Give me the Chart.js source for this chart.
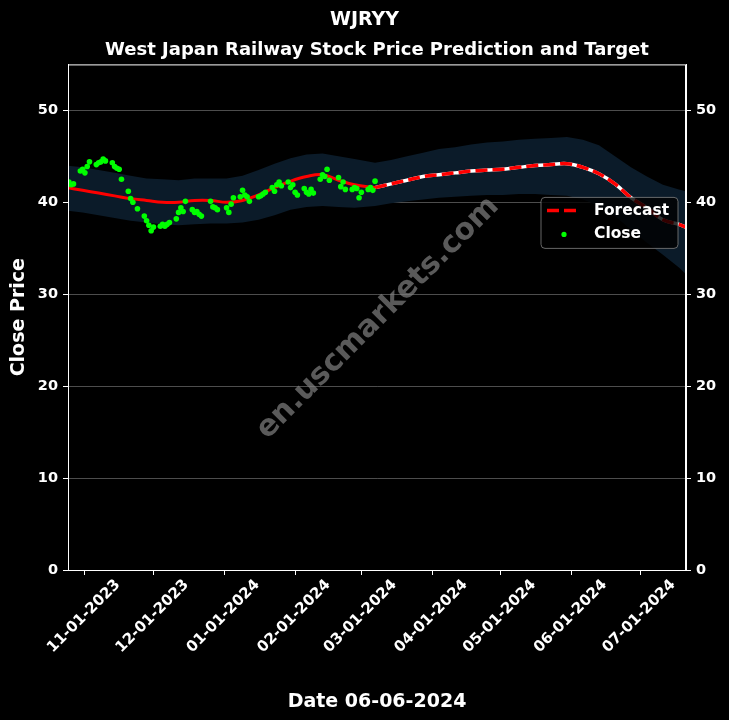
<!DOCTYPE html>
<html>
<head>
<meta charset="utf-8">
<title>WJRYY</title>
<script src="https://cdn.jsdelivr.net/npm/chart.js@4"></script>
<style>
  html, body { margin: 0; padding: 0; background: #000; }
  #wrap { width: 729px; height: 720px; position: relative; }
</style>
</head>
<body>
<div id="wrap"><canvas id="chart"></canvas></div>
<script>
// closing prices (green dots)
const closeDates = [
  "2023-10-25","2023-10-26","2023-10-27","2023-10-30","2023-10-31",
  "2023-11-01","2023-11-02","2023-11-03","2023-11-06","2023-11-07","2023-11-08","2023-11-09","2023-11-10",
  "2023-11-13","2023-11-14","2023-11-15","2023-11-16","2023-11-17","2023-11-20","2023-11-21","2023-11-22","2023-11-24",
  "2023-11-27","2023-11-28","2023-11-29","2023-11-30","2023-12-01","2023-12-04","2023-12-05","2023-12-06","2023-12-07","2023-12-08",
  "2023-12-11","2023-12-12","2023-12-13","2023-12-14","2023-12-15","2023-12-18","2023-12-19","2023-12-20","2023-12-21","2023-12-22",
  "2023-12-26","2023-12-27","2023-12-28","2023-12-29","2024-01-02","2024-01-03","2024-01-04","2024-01-05",
  "2024-01-08","2024-01-09","2024-01-10","2024-01-11","2024-01-12","2024-01-16","2024-01-17","2024-01-18","2024-01-19",
  "2024-01-22","2024-01-23","2024-01-24","2024-01-25","2024-01-26","2024-01-29","2024-01-30","2024-01-31","2024-02-01","2024-02-02",
  "2024-02-05","2024-02-06","2024-02-07","2024-02-08","2024-02-09","2024-02-12","2024-02-13","2024-02-14","2024-02-15","2024-02-16",
  "2024-02-20","2024-02-21","2024-02-22","2024-02-23","2024-02-26","2024-02-27","2024-02-28","2024-02-29","2024-03-01",
  "2024-03-04","2024-03-05","2024-03-06","2024-03-07"
];
const closeValues = [
  42.2, 41.9, 42.0, 43.4, 43.6,
  43.2, 43.9, 44.4, 44.1, 44.3, 44.4, 44.7, 44.5,
  44.3, 43.9, 43.7, 43.6, 42.5, 41.2, 40.4, 40.0, 39.3,
  38.5, 38.0, 37.5, 36.9, 37.3, 37.4, 37.6, 37.4, 37.6, 37.8,
  38.2, 38.9, 39.4, 39.0, 40.1, 39.2, 38.9, 39.0, 38.7, 38.5,
  40.1, 39.5, 39.4, 39.2, 39.4, 38.9, 39.8, 40.5,
  40.6, 41.3, 40.8, 40.6, 40.1, 40.6, 40.7, 40.9, 41.1,
  41.6, 41.2, 41.9, 42.2, 41.8, 42.2, 41.6, 41.9, 41.1, 40.8,
  41.5, 41.1, 40.9, 41.4, 41.0, 42.5, 43.0, 42.8, 43.6, 42.4,
  42.7, 41.7, 42.2, 41.4, 41.4, 41.6, 41.5, 40.5, 41.1,
  41.4, 41.6, 41.3, 42.3
];

// forecast line with its band
const fcDates = [
  "2023-10-24","2023-10-31","2023-11-07","2023-11-14","2023-11-21","2023-11-28","2023-12-05","2023-12-12",
  "2023-12-19","2023-12-26","2024-01-02","2024-01-09","2024-01-16","2024-01-23","2024-01-30","2024-02-06",
  "2024-02-13","2024-02-20","2024-02-27","2024-03-07","2024-03-14","2024-03-21","2024-03-28","2024-04-04",
  "2024-04-11","2024-04-18","2024-04-25","2024-05-02","2024-05-09","2024-05-16","2024-05-23","2024-05-30",
  "2024-06-06","2024-06-13","2024-06-20","2024-06-27","2024-07-04","2024-07-11","2024-07-18","2024-07-21"
];
const fcValues = [
  41.6, 41.3, 41.0, 40.7, 40.4, 40.2, 40.0, 40.0,
  40.2, 40.2, 40.0, 40.2, 40.8, 41.6, 42.3, 42.8,
  43.0, 42.4, 41.9, 41.6, 42.0, 42.4, 42.8, 43.0,
  43.2, 43.4, 43.5, 43.6, 43.8, 44.0, 44.1, 44.2,
  43.8, 43.1, 42.0, 40.5, 39.4, 38.1, 37.6, 37.3
];
const fcUpper = [
  44.0, 43.8, 43.5, 43.2, 42.9, 42.6, 42.5, 42.4,
  42.6, 42.6, 42.6, 42.9, 43.5, 44.2, 44.8, 45.2,
  45.3, 45.0, 44.7, 44.3, 44.6, 45.0, 45.4, 45.8,
  46.0, 46.3, 46.5, 46.6, 46.8, 46.9, 47.0, 47.1,
  46.8, 46.2, 45.0, 43.8, 42.8, 41.9, 41.4, 41.2
];
const fcLower = [
  39.1, 38.9, 38.6, 38.3, 38.0, 37.8, 37.6, 37.5,
  37.6, 37.7, 37.7, 37.8, 38.1, 38.6, 39.2, 39.5,
  39.6, 39.5, 39.4, 39.6, 39.9, 40.1, 40.3, 40.5,
  40.6, 40.7, 40.8, 40.8, 40.9, 40.9, 40.8, 40.7,
  40.3, 39.6, 38.5, 37.0, 35.6, 34.3, 32.9, 32.2
];
const lastCloseDate = "2024-03-07";

const xTickDates = ["2023-11-01","2023-12-01","2024-01-01","2024-02-01","2024-03-01","2024-04-01","2024-05-01","2024-06-01","2024-07-01"];
const xTickLabels = ["11-01-2023","12-01-2023","01-01-2024","02-01-2024","03-01-2024","04-01-2024","05-01-2024","06-01-2024","07-01-2024"];
const yTicks = [0, 10, 20, 30, 40, 50];

// days counted from 2023-11-01
function day(s) {
  return (Date.UTC(+s.slice(0, 4), +s.slice(5, 7) - 1, +s.slice(8, 10)) - Date.UTC(2023, 10, 1)) / 86400000;
}
const pts = (dates, vals) => dates.map((d, i) => ({x: day(d), y: vals[i]}));

const split = fcDates.indexOf(lastCloseDate);
const fcPts = pts(fcDates, fcValues);
const tickPos = xTickDates.map(day);

const FONT = "DejaVu Sans";
Chart.defaults.font.family = FONT;
Chart.defaults.color = "#fff";

const overlay = {
  id: "overlay",
  afterDatasetsDraw(chart) {
    const {ctx, chartArea: a} = chart;
    ctx.save();
    // watermark
    ctx.translate((a.left + a.right) / 2 + 1, (a.top + a.bottom) / 2 + 1);
    ctx.rotate(-Math.PI / 4);
    ctx.font = "bold 30px " + FONT;
    ctx.fillStyle = "rgba(128,128,128,0.7)";
    ctx.textAlign = "center";
    ctx.textBaseline = "middle";
    ctx.fillText("en.uscmarkets.com", 0, 0);
    ctx.restore();

    // full frame
    ctx.save();
    ctx.strokeStyle = "#fff";
    ctx.lineWidth = 1;
    ctx.strokeRect(a.left + 0.5, a.top + 0.5, a.right - a.left - 1, a.bottom - a.top);
    ctx.restore();
  },
  afterDraw(chart) {
    const {ctx, chartArea: a} = chart;
    const bx = a.right - 145, by = a.top + 133, bw = 137, bh = 51;
    ctx.save();
    ctx.beginPath();
    ctx.roundRect(bx, by, bw, bh, 4);
    ctx.fillStyle = "rgba(0,0,0,0.8)";
    ctx.fill();
    ctx.strokeStyle = "rgba(128,128,128,0.8)";
    ctx.lineWidth = 1;
    ctx.stroke();

    ctx.beginPath();
    ctx.setLineDash([12, 5]);
    ctx.strokeStyle = "red";
    ctx.lineWidth = 3.5;
    ctx.moveTo(bx + 6, by + 13);
    ctx.lineTo(bx + 40, by + 13);
    ctx.stroke();
    ctx.setLineDash([]);

    ctx.beginPath();
    ctx.arc(bx + 23, by + 37, 2.6, 0, Math.PI * 2);
    ctx.fillStyle = "lime";
    ctx.fill();

    ctx.font = "bold 15.5px " + FONT;
    ctx.fillStyle = "#fff";
    ctx.textBaseline = "middle";
    ctx.fillText("Forecast", bx + 53, by + 14);
    ctx.fillText("Close", bx + 53, by + 37);
    ctx.restore();
  }
};

new Chart(document.getElementById("chart"), {
  type: "line",
  data: {
    datasets: [
      {label: "upper", data: pts(fcDates, fcUpper), fill: "+1", backgroundColor: "rgb(11,27,41)",
       borderWidth: 0, pointRadius: 0, order: 10},
      {label: "lower", data: pts(fcDates, fcLower), fill: false, borderWidth: 0, pointRadius: 0, order: 10},
      {label: "fit", data: fcPts.slice(0, split + 1), borderColor: "red", borderWidth: 3,
       pointRadius: 0, tension: 0.4, order: 3},
      {label: "future", data: fcPts.slice(split), borderColor: "#fff", borderWidth: 3.5,
       pointRadius: 0, tension: 0.4, order: 3},
      {label: "Forecast", data: fcPts.slice(split), borderColor: "red", borderWidth: 3.5, borderDash: [12, 5],
       pointRadius: 0, tension: 0.4, order: 2},
      {label: "Close", data: pts(closeDates, closeValues), showLine: false, pointRadius: 2.8,
       pointBackgroundColor: "lime", pointBorderWidth: 0, order: 1}
    ]
  },
  options: {
    responsive: true,
    maintainAspectRatio: false,
    animation: false,
    devicePixelRatio: 1,
    layout: {padding: 0},
    plugins: {
      legend: {display: false},
      tooltip: {enabled: false},
      title: {display: true, text: "WJRYY", color: "#fff",
              font: {size: 19, weight: "bold"}, padding: {top: 9, bottom: 0}},
      subtitle: {display: true, fullSize: false, text: "West Japan Railway Stock Price Prediction and Target",
                 color: "#fff", font: {size: 18, weight: "bold"}, padding: {top: 8, bottom: 3}}
    },
    scales: {
      x: {
        type: "linear",
        min: -7.4,
        max: 263.1,
        afterBuildTicks: s => { s.ticks = tickPos.map(v => ({value: v})); },
        afterFit: s => { s.height = 150; },
        ticks: {
          autoSkip: false, minRotation: 45, maxRotation: 45, labelOffset: 33, padding: 1,
          color: "#fff", font: {size: 15, weight: "bold"},
          callback: v => xTickLabels[tickPos.indexOf(v)]
        },
        grid: {drawOnChartArea: false, tickLength: 5, tickColor: "#fff"},
        border: {color: "#fff"},
        title: {display: true, text: "Date 06-06-2024", color: "#fff",
                font: {size: 19, weight: "bold"}, padding: {top: 4, bottom: 7}}
      },
      y: {
        position: "left",
        min: 0,
        max: 55,
        afterBuildTicks: s => { s.ticks = yTicks.map(v => ({value: v})); },
        afterFit: s => { s.width = 68; },
        ticks: {color: "#fff", font: {size: 14.5, weight: "bold"}, padding: 5},
        grid: {color: "rgba(255,255,255,0.3)", tickColor: "#fff", tickLength: 5},
        border: {color: "#fff"},
        title: {display: true, text: "Close Price", color: "#fff",
                font: {size: 19, weight: "bold"}, padding: {top: 8, bottom: 0}}
      },
      y1: {
        position: "right",
        min: 0,
        max: 55,
        afterBuildTicks: s => { s.ticks = yTicks.map(v => ({value: v})); },
        afterFit: s => { s.width = 43; },
        ticks: {color: "#fff", font: {size: 14.5, weight: "bold"}, padding: 5},
        grid: {drawOnChartArea: false, tickColor: "#fff", tickLength: 5},
        border: {color: "#fff"}
      }
    }
  },
  plugins: [overlay]
});
</script>
</body>
</html>
